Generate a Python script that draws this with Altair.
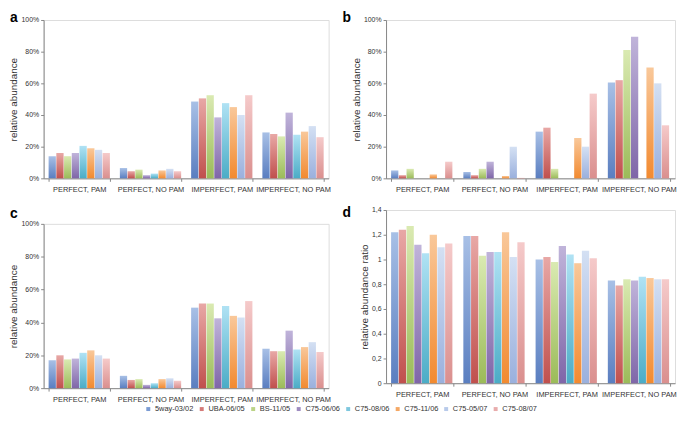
import altair as alt
import pandas as pd

categories = ["PERFECT, PAM", "PERFECT, NO PAM", "IMPERFECT,  PAM", "IMPERFECT, NO PAM"]
series = ["5way-03/02", "UBA-06/05", "BS-11/05", "C75-06/06",
          "C75-08/06", "C75-11/06", "C75-05/07", "C75-08/07"]
dark = ["#5A7EC0", "#C0504D", "#9BBB59", "#7F66A8",
        "#4BACC6", "#F28A30", "#9AB0DD", "#DA8F8E"]
light = ["#A8C0E6", "#E8A8A6", "#DAEAB2", "#C0B4DA",
         "#B0E2F4", "#F9C89A", "#D4E0F3", "#F5CACA"]
legend_colors = ["#7B9BD3", "#D47A78", "#BBD386", "#9E8CC0",
                 "#7EC7DE", "#F5A865", "#B8CAEA", "#E8ACAC"]

# values per category (rows) and series (columns)
panel_a = [
    [14, 16, 14, 16, 20.5, 19, 18, 16],
    [6.5, 4.5, 5.5, 2, 3, 5, 6, 4.5],
    [48.5, 50.5, 52.5, 38.5, 47.5, 45, 40, 52.5],
    [29, 28, 26.5, 41.5, 27.5, 29.5, 33, 26],
]
panel_b = [
    [5, 2, 6, 0, 0, 2.5, 0, 10.5],
    [4, 2, 6, 10.5, 0, 1.5, 20, 0.3],
    [29.5, 32, 6, 0, 0, 25.5, 20, 53.5],
    [60.5, 62, 81, 89.5, 0, 70, 60, 33.5],
]
panel_c = [
    [17, 20, 17.5, 18, 21.5, 23, 20, 18],
    [7.5, 5, 5.5, 2, 3, 5.5, 6, 4.5],
    [49, 51.5, 51.5, 42.5, 50, 44, 43, 53],
    [24, 22.5, 22.5, 35, 23.5, 25, 28, 22],
]
panel_d = [
    [1.22, 1.24, 1.27, 1.12, 1.05, 1.20, 1.10, 1.13],
    [1.19, 1.19, 1.03, 1.06, 1.06, 1.22, 1.02, 1.14],
    [1.00, 1.02, 0.98, 1.11, 1.04, 0.97, 1.07, 1.01],
    [0.83, 0.79, 0.84, 0.83, 0.86, 0.85, 0.84, 0.84],
]

pct_ticks = [0, 20, 40, 60, 80, 100]
ratio_ticks = [0, 0.2, 0.4, 0.6, 0.8, 1.0, 1.2, 1.4]

FONT = "Liberation Sans"


def to_df(values):
    rows = []
    for ci, cat in enumerate(categories):
        for si, s in enumerate(series):
            rows.append({"category": cat, "series": s, "value": values[ci][si]})
    return pd.DataFrame(rows)


def panel(values, letter, ytitle, domain, ticks, label_expr, w, h, lx, ly):
    df = to_df(values)
    x_enc = alt.X("category:N", sort=categories,
                  scale=alt.Scale(paddingInner=0.14, paddingOuter=0.07),
                  axis=alt.Axis(title=None, labelAngle=0, tickBand="extent",
                                labelFontSize=7.5, labelColor="#333", labelFont=FONT,
                                domainColor="#888", tickColor="#888", tickSize=3,
                                labelPadding=4))
    xo_enc = alt.XOffset("series:N", scale=alt.Scale(domain=series, paddingInner=0.06))
    y_enc = alt.Y("value:Q", scale=alt.Scale(domain=domain, nice=False),
                  axis=alt.Axis(values=ticks, labelExpr=label_expr, grid=False,
                                title=ytitle, titleFontSize=10, titleFontWeight="normal",
                                titleColor="#333", titleFont=FONT, titlePadding=2,
                                labelFontSize=7, labelColor="#333", labelFont=FONT,
                                labelPadding=2,
                                domainColor="#888", tickColor="#888", tickSize=3))
    base = alt.Chart(df)
    layers = []
    for s, dk, lt in zip(series, dark, light):
        grad = alt.LinearGradient(
            gradient="linear",
            stops=[alt.GradientStop(color=dk, offset=0),
                   alt.GradientStop(color=lt, offset=1)],
            x1=0, x2=0, y1=1, y2=0)
        layers.append(
            base.transform_filter(alt.datum.series == s)
            .mark_bar(color=grad)
            .encode(x=x_enc, xOffset=xo_enc, y=y_enc)
        )
    legend_layer = base.mark_square(opacity=0, size=1).encode(
        x=x_enc, xOffset=xo_enc, y=y_enc,
        color=alt.Color("series:N", sort=series,
                        scale=alt.Scale(domain=series, range=legend_colors),
                        legend=alt.Legend(title=None, orient="none", direction="horizontal",
                                          columns=8, legendX=102, legendY=389,
                                          symbolType="square", symbolSize=16,
                                          symbolOpacity=1, symbolStrokeWidth=0,
                                          labelFontSize=7.5, labelColor="#333",
                                          labelFont=FONT, columnPadding=4,
                                          labelOffset=3)),
    )
    letter_layer = alt.Chart(pd.DataFrame({"t": [letter]})).mark_text(
        fontSize=14, fontWeight="bold", font=FONT, color="#000",
        align="left", baseline="alphabetic",
    ).encode(text="t:N", x=alt.value(lx), y=alt.value(ly))
    return alt.layer(*layers, legend_layer, letter_layer).properties(width=w, height=h)


pct_expr = "datum.value + '%'"
ratio_expr = "replace(format(datum.value, '~g'), '.', ',')"

a = panel(panel_a, "a", "relative abundance", [0, 100], pct_ticks, pct_expr, 288, 160, -34, 2)
b = panel(panel_b, "b", "relative abundance", [0, 100], pct_ticks, pct_expr, 292, 160, -44, 2)
c = panel(panel_c, "c", "relative abundance", [0, 100], pct_ticks, pct_expr, 288, 166, -34, -6)
d = panel(panel_d, "d", "relative abundance ratio", [0, 1.4], ratio_ticks, ratio_expr, 292, 175, -44, 7)

left_col = alt.vconcat(a, c, spacing=13)
right_col = alt.vconcat(b, d, spacing=12)

chart = alt.hconcat(left_col, right_col, spacing=10).resolve_scale(
    color="shared").resolve_legend(color="shared").properties(
    padding=0).configure_view(stroke=None).configure(background="white")

chart.save("out.html", embed_options={"renderer": "svg", "actions": False})
